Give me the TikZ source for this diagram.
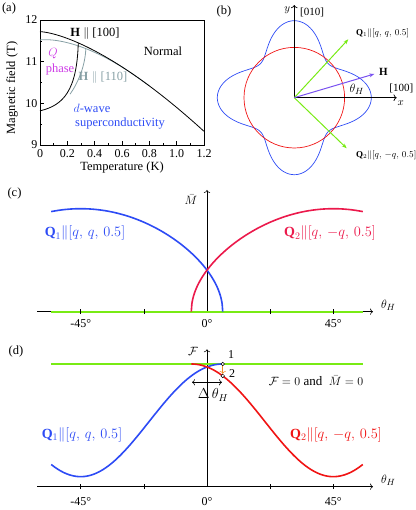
\documentclass[tikz,border=0pt]{standalone}
\usepackage{amsmath}
\usepackage{amssymb}
\usepackage{fontspec}
\setmainfont{Liberation Serif}
\usepackage{tikz}
\usetikzlibrary{calc,arrows.meta}

\definecolor{cblue}{RGB}{45,75,245}
\definecolor{cred}{RGB}{235,25,75}
\definecolor{dred}{RGB}{240,20,20}
\definecolor{cgreen}{RGB}{120,235,20}
\definecolor{qpink}{RGB}{205,60,230}
\definecolor{hgray}{RGB}{135,160,165}
\definecolor{hpurple}{RGB}{120,80,240}
\definecolor{dorange}{RGB}{240,140,40}

\begin{document}
\begin{tikzpicture}[x=1pt,y=1pt,
    lbl/.style={font=\fontsize{12.5}{14}\selectfont,inner sep=0pt},
    blbl/.style={font=\fontsize{11}{13}\selectfont,inner sep=0pt},
    ticklbl/.style={font=\fontsize{12}{14}\selectfont,inner sep=0pt},
    qlbl/.style={font=\fontsize{14}{16}\selectfont,inner sep=0pt},
    qsmall/.style={font=\fontsize{9}{11}\selectfont,inner sep=0pt,anchor=west},
    curve/.style={line width=1.6pt},
    dot/.style={circle,draw,fill=white,inner sep=0pt,minimum size=3.6pt,line width=0.5pt}]
  \useasboundingbox (0,0) rectangle (415,510);

  % Panel labels
  \node[lbl] (pa) at (9,501.5) {(a)};
  \node[lbl] (pb) at (224,498.3) {(b)};
  \node[lbl] (pc) at (14.5,316.7) {(c)};
  \node[lbl] (pd) at (16,158.3) {(d)};

  % (a) phase diagram
  \begin{scope}[shift={(40,365)},x=136.67pt,y=41.67pt]
    \draw[line width=0.7pt] (0,0) rectangle (1.2,3);
    \foreach \i in {1,...,11}
      \draw (\i/10,0) -- ++(0,{2pt+1.5pt*(1-mod(\i,2))});
    \foreach \j in {1,...,5}
      \draw (0,\j/2) -- ++({2pt+1.5pt*(1-mod(\j,2))},0);
    % H || [110]
    \draw[hgray,line width=0.8pt,domain=0:0.8,samples=60]
      plot (\x,{2.72-1.82*\x*sqrt(\x)-0.2*max(0,1-\x/0.7)^2});
    \draw[hgray,line width=0.8pt] (0.22,1.22) .. controls (0.28,1.5) and (0.33,1.9) .. (0.335,2.3);
    % H || [100]
    \draw[line width=0.8pt,domain=0:1.2,samples=80]
      plot (\x,{2.72-1.82*\x*sqrt(\x)});
    \draw[line width=0.8pt] (0,0.82) .. controls (0.17,0.95) and (0.27,1.3) .. (0.28,2.45);
  \end{scope}
  \foreach \t [count=\k] in {0,0.2,0.4,0.6,0.8,1.0,1.2}
    \node[ticklbl] (xt\k) at ({40+136.67*\t},356) {\t};
  \foreach \b in {9,10,11,12}
    \node[ticklbl,anchor=east] (yt\b) at (37.5,{365+41.67*(\b-9)}) {\b};
  \node[lbl] (tlab) at (122,342) {Temperature (K)};
  \node[lbl,rotate=90] (blab) at (12,422) {Magnetic field (T)};
  \node[lbl] (h100) at (95,476.7) {\textbf{H} $\|$ [100]};
  \node[lbl] (normal) at (163,458.3) {Normal};
  \node[lbl,text=qpink] (qq) at (53,456.7) {$Q$};
  \node[lbl,text=qpink] (qphase) at (60,440) {phase};
  \node[lbl,text=hgray] (h110) at (103,432.7) {\textbf{H} $\|$ [110]};
  \node[lbl,text=cblue] (dwave) at (92,402) {$d$-wave};
  \node[lbl,text=cblue] (dsc) at (120,386) {superconductivity};

  % (b) directions in the plane
  \begin{scope}[shift={(294.3,412.3)}]
    \coordinate (O) at (0,0);
    \coordinate (xend) at (102.4,0);
    \coordinate (yend) at (0,92.7);
    \coordinate (q1end) at (54,58.4);
    \coordinate (q2end) at (52.4,-50.6);
    \coordinate (hend) at (80,23.7);
    \draw[cblue,line width=0.7pt,domain=0:360,samples=240,smooth]
      plot ({(62.5+14.5*cos(4*\x))*cos(\x)},{(62.5+14.5*cos(4*\x))*sin(\x)});
    \draw[dred,line width=0.7pt] (O) circle (50.3);
    \draw[->,line width=0.7pt] (O) -- (xend);
    \draw[->,line width=0.7pt] (O) -- (yend);
    \draw[cgreen,line width=1pt,-{Stealth[length=5pt]}] (O) -- (q1end);
    \draw[cgreen,line width=1pt,-{Stealth[length=5pt]}] (O) -- (q2end);
    \draw[hpurple,line width=1pt,-{Stealth[length=5pt]}] (O) -- (hend);
  \end{scope}
  \node[blbl] (xl) at (400.7,406.7) {$x$};
  \node[blbl,anchor=east] (x100) at (413.5,421.7) {[100]};
  \node[blbl] (yl) at (287.3,499.3) {$y$};
  \node[blbl,anchor=west] (y010) at (300,497.7) {[010]};
  \node[qsmall] (q1b) at (356,476.7) {\textbf{Q}$_1\|[q,\,q,\,0.5]$};
  \node[qsmall] (q2b) at (356,355) {\textbf{Q}$_2\|[q,\,{-q},\,0.5]$};
  \node[blbl] (hl) at (383.3,438.3) {\textbf{H}};
  \node[lbl] (thb) at (356.7,420.7) {$\theta_H$};

  % (c) magnetisation
  \begin{scope}[shift={(207,198.3)},x=2.807pt]
    \coordinate (cl) at (-60.56,0);
    \coordinate (cr) at (59.14,0);
    \coordinate (c0) at (0,0);
    \coordinate (ct) at (0,121.7);
    \coordinate (cgl) at (-55.5,0);
    \coordinate (cgr) at (55.5,0);
    \draw[->,line width=0.6pt] (cl) -- (cr);
    \draw[->,line width=0.6pt] (c0) -- (ct);
    \draw[cgreen,line width=1.8pt] (cgl) -- (cgr);
    \foreach \a in {-45,-22.5,22.5,45}
      \draw[line width=0.6pt] (\a,-2.5) -- (\a,2.5);
    \draw[cblue,curve,domain=-55.5:5.6,samples=300]
      plot (\x,{103*sqrt(max(0,(0.19423-sin(2*\x))/1.19423))});
    \draw[cred,curve,domain=-5.6:55.5,samples=300]
      plot (\x,{103*sqrt(max(0,(0.19423+sin(2*\x))/1.19423))});
  \end{scope}
  \node[lbl] (cM) at (191,310) {$\bar{M}$};
  \node[lbl] (cth) at (388.3,205) {$\theta_H$};
  \node[qlbl,text=cblue] (q1c) at (85,276.7) {\textbf{Q}$_1\|[q,\,q,\,0.5]$};
  \node[qlbl,text=cred] (q2c) at (330,276.7) {\textbf{Q}$_2\|[q,\,{-q},\,0.5]$};
  \node[ticklbl] (cm45) at (80.7,186) {-45°};
  \node[ticklbl] (c0l) at (207,186) {0°};
  \node[ticklbl] (cp45) at (333.3,186) {45°};

  % (d) free energy
  \begin{scope}[shift={(207,23.3)},x=2.807pt]
    \coordinate (dl) at (-60.56,0);
    \coordinate (dr) at (59.14,0);
    \coordinate (d0) at (0,0);
    \coordinate (dt) at (0,137.4);
    \coordinate (dgl) at (-55.5,122.7);
    \coordinate (dgr) at (55.5,122.7);
    \coordinate (dal) at (-5.34,104.4);
    \coordinate (dar) at (5.34,104.4);
    \draw[->,line width=0.6pt] (dl) -- (dr);
    \draw[->,line width=0.6pt] (d0) -- (dt);
    \foreach \a in {-45,-22.5,22.5,45}
      \draw[line width=0.6pt] (\a,-2.5) -- (\a,2.5);
    \draw[cgreen,line width=1.8pt] (dgl) -- (dgr);
    \draw[cblue,curve,domain=-55.5:5.6,samples=120]
      plot (\x,{122.7-112.7*((0.19423-sin(2*\x))/1.19423)^2});
    \draw[dred,curve,domain=-5.6:55.5,samples=120]
      plot (\x,{122.7-112.7*((0.19423+sin(2*\x))/1.19423)^2});
    \draw[<->,line width=0.6pt] (dal) -- (dar);
    \node[dot] (p1) at (5.6,122.7) {};
    \node[dot] (p2) at (5.6,110.8) {};
    \draw[dorange,->,line width=0.6pt] (p1) -- (p2);
  \end{scope}
  \node[lbl] (dF) at (193,158.3) {$\mathcal{F}$};
  \node[lbl] (dth) at (388.3,30) {$\theta_H$};
  \node[ticklbl] (n1) at (231,155) {1};
  \node[ticklbl] (n2) at (232,136) {2};
  \node[qlbl] (dlt) at (213,115) {$\Delta\,\theta_H$};
  \node[font=\fontsize{13}{15}\selectfont,inner sep=0pt] (fm) at (316,129.3) {$\mathcal{F}=0$ and \ $\bar{M}=0$};
  \node[qlbl,text=cblue] (q1d) at (82,75) {\textbf{Q}$_1\|[q,\,q,\,0.5]$};
  \node[qlbl,text=dred] (q2d) at (336,75) {\textbf{Q}$_2\|[q,\,{-q},\,0.5]$};
  \node[ticklbl] (dm45) at (80.7,8.3) {-45°};
  \node[ticklbl] (d0l) at (207,8.3) {0°};
  \node[ticklbl] (dp45) at (333.3,8.3) {45°};
\end{tikzpicture}
\end{document}
